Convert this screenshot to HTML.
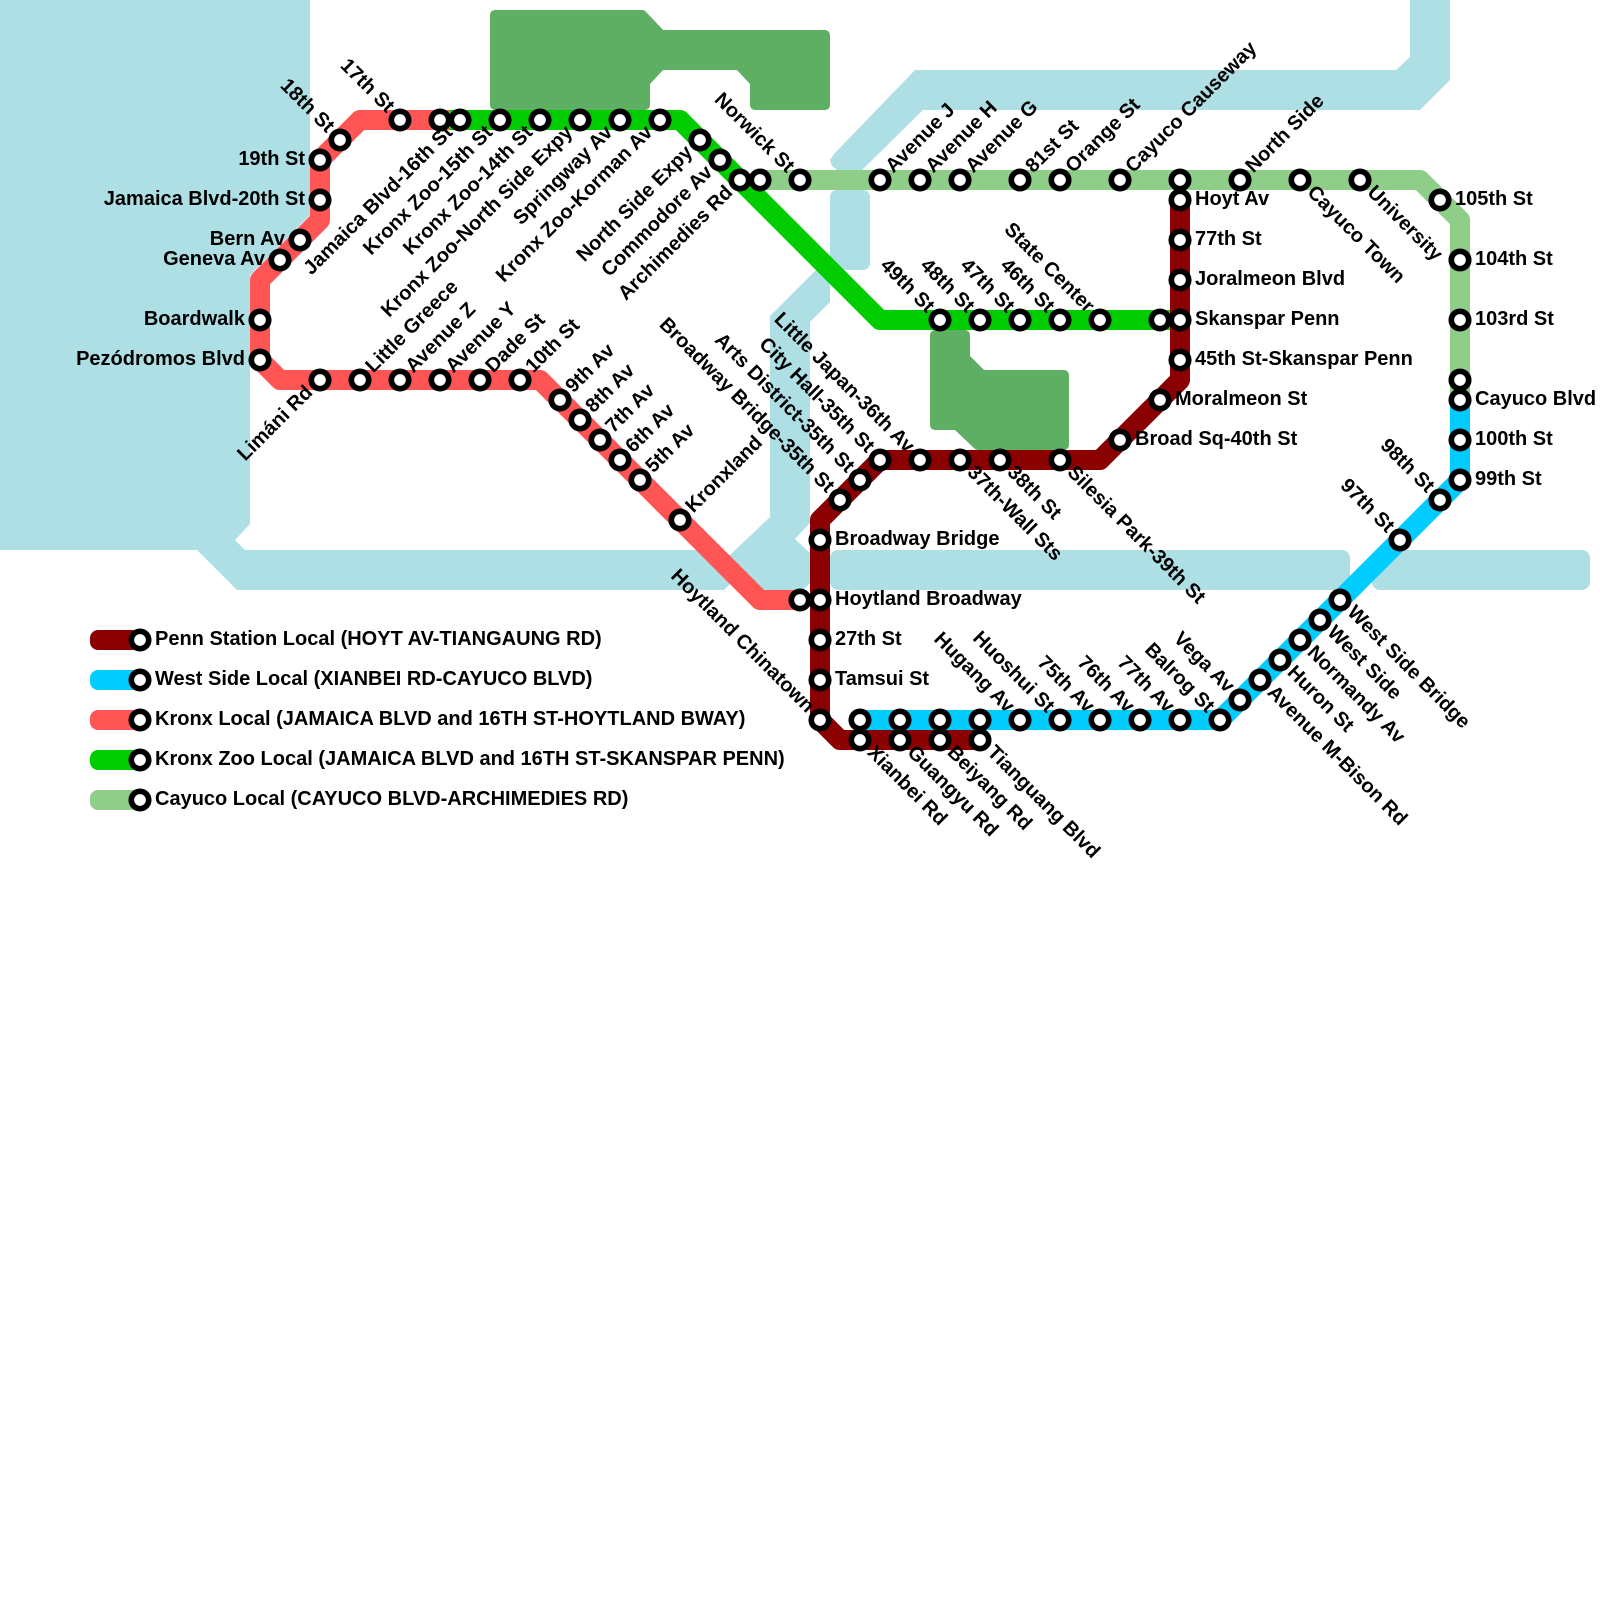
<!DOCTYPE html>
<html><head><meta charset="utf-8"><style>
html,body{margin:0;padding:0;background:#fff}
svg{display:block}
text{font-family:"Liberation Sans",sans-serif;font-weight:700;font-size:20px;fill:#000}
.e{text-anchor:end}
.w{fill:#aedfe4}.p{fill:#5eae64;stroke:#5eae64;stroke-width:10;stroke-linejoin:round}
.l{fill:none;stroke-width:20;stroke-linejoin:round}
circle{fill:#fff;stroke:#000;stroke-width:5.7}
</style></head><body>
<svg width="1600" height="1600" viewBox="0 0 1600 1600" xmlns="http://www.w3.org/2000/svg">
<rect width="1600" height="1600" fill="#fff"/>
<polygon class="w" points="0,0 310,0 310,215 250,275 250,524 235,540 245,550 718,550 730,555 770,517 770,316 820,266 830,270 830,302 810,322 810,523 795,539 810,553 810,583 803,590 750,590 735,575 730,584 724,590 237,590 197,550 0,550"/>
<rect class="w" x="830" y="190" width="40" height="80" rx="7"/>
<rect class="w" x="830" y="550" width="520" height="40" rx="8"/>
<rect class="w" x="1372" y="550" width="218" height="40" rx="8"/>
<polygon class="w" points="1410,0 1450,0 1450,80 1420,110 923,110 860,172 840,172 832,166 830,160 834,154 915,70 1396,70 1410,57"/>
<polygon class="p" points="495,15 642,15 661,35 825,35 825,105 755,105 755,82 739,65 661,65 645,82 645,105 495,105"/>
<polygon class="p" points="935,335 965,335 965,358 982,375 1064,375 1064,445 978,445 957,425 935,425"/>
<path class="l" stroke="#ff5555" d="M450 120H360L320 160V220L260 280V360L280 380H540L760 600H800"/>
<path class="l" stroke="#00cc00" d="M450 120H680L880 320H1170"/>
<path class="l" stroke="#8fce88" d="M760 180H1420L1460 220V395"/>
<path class="l" stroke="#8b0000" d="M980 740H840L820 720V520L880 460H1100L1180 380V195"/>
<path class="l" stroke="#00ccff" d="M860 720H1220L1460 480V395"/>
<g id="legend">
<rect x="90" y="630" width="50" height="20" rx="8" fill="#8b0000"/>
<rect x="90" y="670" width="50" height="20" rx="8" fill="#00ccff"/>
<rect x="90" y="710" width="50" height="20" rx="8" fill="#ff5555"/>
<rect x="90" y="750" width="50" height="20" rx="8" fill="#00cc00"/>
<rect x="90" y="790" width="50" height="20" rx="8" fill="#8fce88"/>
<circle cx="140" cy="640" r="8.7"/><circle cx="140" cy="680" r="8.7"/><circle cx="140" cy="720" r="8.7"/><circle cx="140" cy="760" r="8.7"/><circle cx="140" cy="800" r="8.7"/>
<text x="155" y="645">Penn Station Local (HOYT AV-TIANGAUNG RD)</text>
<text x="155" y="685">West Side Local (XIANBEI RD-CAYUCO BLVD)</text>
<text x="155" y="725">Kronx Local (JAMAICA BLVD and 16TH ST-HOYTLAND BWAY)</text>
<text x="155" y="765">Kronx Zoo Local (JAMAICA BLVD and 16TH ST-SKANSPAR PENN)</text>
<text x="155" y="805">Cayuco Local (CAYUCO BLVD-ARCHIMEDIES RD)</text>
</g>
<g id="stations">
<circle cx="320" cy="160" r="8.7"/><circle cx="340" cy="140" r="8.7"/><circle cx="400" cy="120" r="8.7"/><circle cx="440" cy="120" r="8.7"/><circle cx="460" cy="120" r="8.7"/><circle cx="500" cy="120" r="8.7"/><circle cx="540" cy="120" r="8.7"/><circle cx="580" cy="120" r="8.7"/><circle cx="620" cy="120" r="8.7"/><circle cx="660" cy="120" r="8.7"/><circle cx="700" cy="140" r="8.7"/><circle cx="720" cy="160" r="8.7"/><circle cx="740" cy="180" r="8.7"/><circle cx="760" cy="180" r="8.7"/><circle cx="800" cy="180" r="8.7"/><circle cx="880" cy="180" r="8.7"/><circle cx="920" cy="180" r="8.7"/><circle cx="960" cy="180" r="8.7"/><circle cx="1020" cy="180" r="8.7"/><circle cx="1060" cy="180" r="8.7"/><circle cx="1120" cy="180" r="8.7"/><circle cx="1180" cy="180" r="8.7"/><circle cx="1240" cy="180" r="8.7"/><circle cx="1300" cy="180" r="8.7"/><circle cx="1360" cy="180" r="8.7"/><circle cx="1440" cy="200" r="8.7"/><circle cx="1460" cy="260" r="8.7"/><circle cx="1460" cy="320" r="8.7"/><circle cx="1460" cy="380" r="8.7"/><circle cx="1460" cy="400" r="8.7"/><circle cx="1460" cy="440" r="8.7"/><circle cx="1460" cy="480" r="8.7"/><circle cx="1440" cy="500" r="8.7"/><circle cx="1400" cy="540" r="8.7"/><circle cx="1340" cy="600" r="8.7"/><circle cx="1320" cy="620" r="8.7"/><circle cx="1300" cy="640" r="8.7"/><circle cx="1280" cy="660" r="8.7"/><circle cx="1260" cy="680" r="8.7"/><circle cx="1240" cy="700" r="8.7"/><circle cx="1220" cy="720" r="8.7"/><circle cx="1180" cy="720" r="8.7"/><circle cx="1140" cy="720" r="8.7"/><circle cx="1100" cy="720" r="8.7"/><circle cx="1060" cy="720" r="8.7"/><circle cx="1020" cy="720" r="8.7"/><circle cx="980" cy="720" r="8.7"/><circle cx="940" cy="720" r="8.7"/><circle cx="900" cy="720" r="8.7"/><circle cx="860" cy="720" r="8.7"/><circle cx="860" cy="740" r="8.7"/><circle cx="900" cy="740" r="8.7"/><circle cx="940" cy="740" r="8.7"/><circle cx="980" cy="740" r="8.7"/><circle cx="820" cy="720" r="8.7"/><circle cx="820" cy="680" r="8.7"/><circle cx="820" cy="640" r="8.7"/><circle cx="800" cy="600" r="8.7"/><circle cx="820" cy="600" r="8.7"/><circle cx="820" cy="540" r="8.7"/><circle cx="840" cy="500" r="8.7"/><circle cx="860" cy="480" r="8.7"/><circle cx="880" cy="460" r="8.7"/><circle cx="920" cy="460" r="8.7"/><circle cx="960" cy="460" r="8.7"/><circle cx="1000" cy="460" r="8.7"/><circle cx="1060" cy="460" r="8.7"/><circle cx="1120" cy="440" r="8.7"/><circle cx="1160" cy="400" r="8.7"/><circle cx="1180" cy="360" r="8.7"/><circle cx="1160" cy="320" r="8.7"/><circle cx="1180" cy="320" r="8.7"/><circle cx="1180" cy="280" r="8.7"/><circle cx="1180" cy="240" r="8.7"/><circle cx="1180" cy="200" r="8.7"/><circle cx="940" cy="320" r="8.7"/><circle cx="980" cy="320" r="8.7"/><circle cx="1020" cy="320" r="8.7"/><circle cx="1060" cy="320" r="8.7"/><circle cx="1100" cy="320" r="8.7"/><circle cx="320" cy="200" r="8.7"/><circle cx="300" cy="240" r="8.7"/><circle cx="280" cy="260" r="8.7"/><circle cx="260" cy="320" r="8.7"/><circle cx="260" cy="360" r="8.7"/><circle cx="320" cy="380" r="8.7"/><circle cx="360" cy="380" r="8.7"/><circle cx="400" cy="380" r="8.7"/><circle cx="440" cy="380" r="8.7"/><circle cx="480" cy="380" r="8.7"/><circle cx="520" cy="380" r="8.7"/><circle cx="560" cy="400" r="8.7"/><circle cx="580" cy="420" r="8.7"/><circle cx="600" cy="440" r="8.7"/><circle cx="620" cy="460" r="8.7"/><circle cx="640" cy="480" r="8.7"/><circle cx="680" cy="520" r="8.7"/>
</g>
<g id="labels-left">
<text class="e" x="305" y="165">19th St</text>
<text class="e" x="305" y="205">Jamaica Blvd-20th St</text>
<text class="e" x="285" y="245">Bern Av</text>
<text class="e" x="265" y="265">Geneva Av</text>
<text class="e" x="245" y="325">Boardwalk</text>
<text class="e" x="245" y="365">Pezódromos Blvd</text>
</g>
<g id="labels-right">
<text x="1195" y="205">Hoyt Av</text>
<text x="1195" y="245">77th St</text>
<text x="1195" y="285">Joralmeon Blvd</text>
<text x="1195" y="325">Skanspar Penn</text>
<text x="1195" y="365">45th St-Skanspar Penn</text>
<text x="1175" y="405">Moralmeon St</text>
<text x="1135" y="445">Broad Sq-40th St</text>
<text x="1455" y="205">105th St</text>
<text x="1475" y="265">104th St</text>
<text x="1475" y="325">103rd St</text>
<text x="1475" y="405">Cayuco Blvd</text>
<text x="1475" y="445">100th St</text>
<text x="1475" y="485">99th St</text>
<text x="835" y="545">Broadway Bridge</text>
<text x="835" y="605">Hoytland Broadway</text>
<text x="835" y="645">27th St</text>
<text x="835" y="685">Tamsui St</text>
</g>
<g id="labels-upleft">
<text class="e" x="-14" y="5" transform="translate(340 140) rotate(45)">18th St</text>
<text class="e" x="-14" y="5" transform="translate(400 120) rotate(45)">17th St</text>
<text class="e" x="-14" y="5" transform="translate(800 180) rotate(45)">Norwick St</text>
<text class="e" x="-14" y="5" transform="translate(940 320) rotate(45)">49th St</text>
<text class="e" x="-14" y="5" transform="translate(980 320) rotate(45)">48th St</text>
<text class="e" x="-14" y="5" transform="translate(1020 320) rotate(45)">47th St</text>
<text class="e" x="-14" y="5" transform="translate(1060 320) rotate(45)">46th St</text>
<text class="e" x="-14" y="5" transform="translate(1100 320) rotate(45)">State Center</text>
<text class="e" x="-14" y="5" transform="translate(840 500) rotate(45)">Broadway Bridge-35th St</text>
<text class="e" x="-14" y="5" transform="translate(860 480) rotate(45)">Arts District-35th St</text>
<text class="e" x="-14" y="5" transform="translate(880 460) rotate(45)">City Hall-35th St</text>
<text class="e" x="-14" y="5" transform="translate(920 460) rotate(45)">Little Japan-36th Av</text>
<text class="e" x="-14" y="5" transform="translate(820 720) rotate(45)">Hoytland Chinatown</text>
<text class="e" x="-14" y="5" transform="translate(1020 720) rotate(45)">Hugang Av</text>
<text class="e" x="-14" y="5" transform="translate(1060 720) rotate(45)">Huoshui St</text>
<text class="e" x="-14" y="5" transform="translate(1100 720) rotate(45)">75th Av</text>
<text class="e" x="-14" y="5" transform="translate(1140 720) rotate(45)">76th Av</text>
<text class="e" x="-14" y="5" transform="translate(1180 720) rotate(45)">77th Av</text>
<text class="e" x="-14" y="5" transform="translate(1220 720) rotate(45)">Balrog St</text>
<text class="e" x="-14" y="5" transform="translate(1240 700) rotate(45)">Vega Av</text>
<text class="e" x="-14" y="5" transform="translate(1400 540) rotate(45)">97th St</text>
<text class="e" x="-14" y="5" transform="translate(1440 500) rotate(45)">98th St</text>
</g>
<g id="labels-downleft">
<text class="e" x="-14" y="5" transform="translate(460 120) rotate(-45)">Jamaica Blvd-16th St</text>
<text class="e" x="-14" y="5" transform="translate(500 120) rotate(-45)">Kronx Zoo-15th St</text>
<text class="e" x="-14" y="5" transform="translate(540 120) rotate(-45)">Kronx Zoo-14th St</text>
<text class="e" x="-14" y="5" transform="translate(580 120) rotate(-45)">Kronx Zoo-North Side Expy</text>
<text class="e" x="-14" y="5" transform="translate(620 120) rotate(-45)">Springway Av</text>
<text class="e" x="-14" y="5" transform="translate(660 120) rotate(-45)">Kronx Zoo-Korman Av</text>
<text class="e" x="-14" y="5" transform="translate(700 140) rotate(-45)">North Side Expy</text>
<text class="e" x="-14" y="5" transform="translate(720 160) rotate(-45)">Commodore Av</text>
<text class="e" x="-14" y="5" transform="translate(740 180) rotate(-45)">Archimedies Rd</text>
<text class="e" x="-14" y="5" transform="translate(320 380) rotate(-45)">Limáni Rd</text>
</g>
<g id="labels-upright">
<text x="14" y="5" transform="translate(360 380) rotate(-45)">Little Greece</text>
<text x="14" y="5" transform="translate(400 380) rotate(-45)">Avenue Z</text>
<text x="14" y="5" transform="translate(440 380) rotate(-45)">Avenue Y</text>
<text x="14" y="5" transform="translate(480 380) rotate(-45)">Dade St</text>
<text x="14" y="5" transform="translate(520 380) rotate(-45)">10th St</text>
<text x="14" y="5" transform="translate(560 400) rotate(-45)">9th Av</text>
<text x="14" y="5" transform="translate(580 420) rotate(-45)">8th Av</text>
<text x="14" y="5" transform="translate(600 440) rotate(-45)">7th Av</text>
<text x="14" y="5" transform="translate(620 460) rotate(-45)">6th Av</text>
<text x="14" y="5" transform="translate(640 480) rotate(-45)">5th Av</text>
<text x="14" y="5" transform="translate(680 520) rotate(-45)">Kronxland</text>
<text x="14" y="5" transform="translate(880 180) rotate(-45)">Avenue J</text>
<text x="14" y="5" transform="translate(920 180) rotate(-45)">Avenue H</text>
<text x="14" y="5" transform="translate(960 180) rotate(-45)">Avenue G</text>
<text x="14" y="5" transform="translate(1020 180) rotate(-45)">81st St</text>
<text x="14" y="5" transform="translate(1060 180) rotate(-45)">Orange St</text>
<text x="14" y="5" transform="translate(1120 180) rotate(-45)">Cayuco Causeway</text>
<text x="14" y="5" transform="translate(1240 180) rotate(-45)">North Side</text>
</g>
<g id="labels-downright">
<text x="14" y="5" transform="translate(960 460) rotate(45)">37th-Wall Sts</text>
<text x="14" y="5" transform="translate(1000 460) rotate(45)">38th St</text>
<text x="14" y="5" transform="translate(1060 460) rotate(45)">Silesia Park-39th St</text>
<text x="14" y="5" transform="translate(1300 180) rotate(45)">Cayuco Town</text>
<text x="14" y="5" transform="translate(1360 180) rotate(45)">University</text>
<text x="14" y="5" transform="translate(860 740) rotate(45)">Xianbei Rd</text>
<text x="14" y="5" transform="translate(900 740) rotate(45)">Guangyu Rd</text>
<text x="14" y="5" transform="translate(940 740) rotate(45)">Beiyang Rd</text>
<text x="14" y="5" transform="translate(980 740) rotate(45)">Tianguang Blvd</text>
<text x="14" y="5" transform="translate(1260 680) rotate(45)">Avenue M-Bison Rd</text>
<text x="14" y="5" transform="translate(1280 660) rotate(45)">Huron St</text>
<text x="14" y="5" transform="translate(1300 640) rotate(45)">Normandy Av</text>
<text x="14" y="5" transform="translate(1320 620) rotate(45)">West Side</text>
<text x="14" y="5" transform="translate(1340 600) rotate(45)">West Side Bridge</text>
</g>
</svg>
</body></html>
